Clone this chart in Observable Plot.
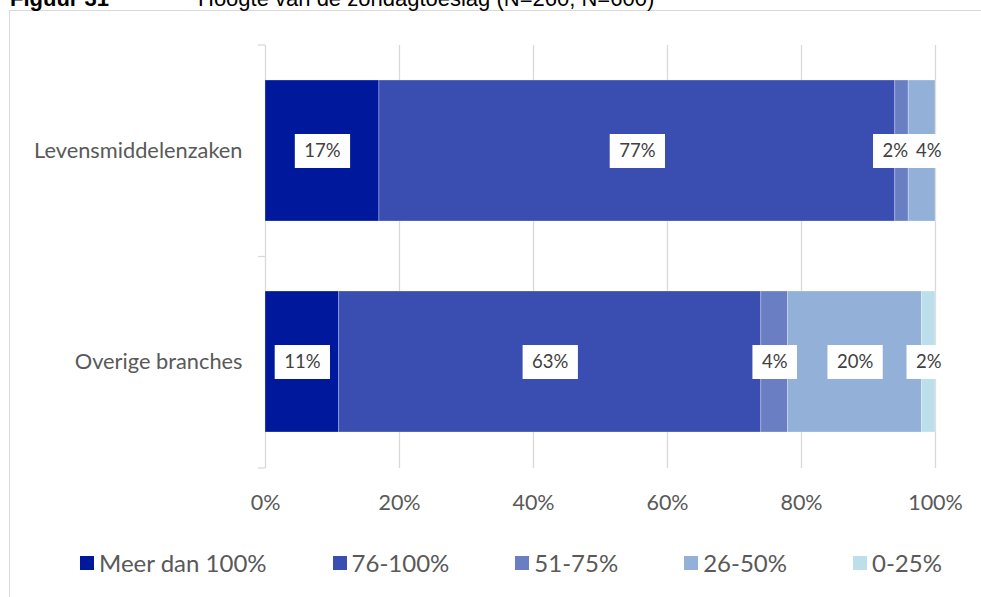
<!DOCTYPE html>
<html>
<head>
<meta charset="utf-8">
<script src="https://cdn.jsdelivr.net/npm/d3@7"></script>
<script src="https://cdn.jsdelivr.net/npm/@observablehq/plot@0.6"></script>
<style>
  html, body { margin: 0; padding: 0; background: #fff; }
  body { width: 981px; height: 597px; overflow: hidden; position: relative; font-family: Lato, sans-serif; }
  #frame { position: absolute; left: 9px; top: 10px; width: 990px; height: 620px; border: 1px solid #d9d9d9; box-sizing: border-box; }
  #title { position: absolute; top: -12px; left: 0; width: 981px; height: 30px; font-family: "Liberation Sans", Arial, sans-serif; font-size: 22px; line-height: 22px; white-space: nowrap; color: #000; }
  #title .fig { position: absolute; left: 10px; font-weight: bold; }
  #title .txt { position: absolute; left: 198px; }
  #chart { position: absolute; left: 0; top: 0; }
  #legend { position: absolute; top: 548px; left: 80px; width: max-content; display: flex; flex-wrap: nowrap; align-items: center; white-space: nowrap; font-family: Lato, sans-serif; font-size: 24px; color: #595959; }
  #legend .item { display: flex; flex-shrink: 0; align-items: center; margin-right: 66px; white-space: nowrap; }
  #legend .item:last-child { margin-right: 0; }
  #legend .sw { width: 14px; height: 14px; margin-right: 5px; flex-shrink: 0; }
</style>
</head>
<body>
<div id="frame"></div>
<div id="title"><span class="fig">Figuur 31</span><span class="txt">Hoogte van de zondagtoeslag (N=260; N=600)</span></div>
<div id="chart"></div>
<div id="legend"></div>
<script>
const categories = ["Levensmiddelenzaken", "Overige branches"];
const bands = ["Meer dan 100%", "76-100%", "51-75%", "26-50%", "0-25%"];
const levensmiddelenzaken = [17, 77, 2, 4, 0];
const overigeBranches = [11, 63, 4, 20, 2];
const bandColors = ["#00199c", "#3a4db1", "#6a7fc3", "#93b0d9", "#bddfec"];
const xTicks = [0, 20, 40, 60, 80, 100];

const FONT = "Lato";
const series = [levensmiddelenzaken, overigeBranches];
const data = [];
categories.forEach((cat, ci) => {
  bands.forEach((band, bi) => data.push({cat, band, value: series[ci][bi]}));
});

// label positions: segment midpoints, nudged apart when too close
const labels = [];
categories.forEach((cat, ci) => {
  let cum = 0;
  const row = [];
  series[ci].forEach((v, bi) => {
    if (v > 0) row.push({cat, mid: cum + v / 2, label: v + "%"});
    cum += v;
  });
  const minGap = 5;
  for (let i = 1; i < row.length; i++) {
    const gap = row[i].mid - row[i - 1].mid;
    if (gap < minGap) {
      const push = (minGap - gap) / 2;
      row[i - 1].mid -= push;
      row[i].mid += push;
    }
  }
  labels.push(...row);
});

function bandBoundaryTicks(index, scales, values, dims) {
  const x0 = scales.x(0);
  const top = dims.marginTop, bottom = dims.height - dims.marginBottom;
  const ys = [top, (top + bottom) / 2, bottom];
  const g = d3.create("svg:g");
  for (const y of ys) {
    g.append("line").attr("x1", x0 - 7).attr("x2", x0).attr("y1", y).attr("y2", y)
      .attr("stroke", "#d9d9d9").attr("stroke-width", 1.3);
  }
  return g.node();
}

const labelFontSize = 18.5;
const plot = Plot.plot({
  width: 981,
  height: 530,
  marginLeft: 265,
  marginRight: 46,
  marginTop: 45,
  marginBottom: 62,
  style: {fontFamily: FONT, color: "#595959", background: "transparent"},
  x: {domain: [0, 100]},
  y: {domain: categories, paddingInner: 0.33, paddingOuter: 0.165},
  color: {domain: bands, range: bandColors},
  marks: [
    Plot.ruleX(xTicks, {stroke: "#d9d9d9", strokeWidth: 1.3}),
    bandBoundaryTicks,
    Plot.barX(data, Plot.stackX({x: "value", y: "cat", fill: "band", stroke: "#ffffff", strokeOpacity: 0.35, strokeWidth: 0.8})),
    Plot.text(labels, {
      x: "mid", y: "cat", text: "label", fill: "#404040", fontSize: labelFontSize,
      render(index, scales, values, dims, context, next) {
        const g = next(index, scales, values, dims, context);
        const ctx = document.createElement("canvas").getContext("2d");
        ctx.font = `${labelFontSize}px ${FONT}`;
        const texts = Array.from(g.querySelectorAll("text"));
        const first = g.firstChild;
        texts.forEach((t) => {
          const m = /translate\(([-\d.e]+),\s*([-\d.e]+)\)/.exec(t.getAttribute("transform") || "");
          let x, y;
          if (m) { x = +m[1]; y = +m[2]; } else { x = +t.getAttribute("x"); y = +t.getAttribute("y"); }
          const w = ctx.measureText(t.textContent).width + 19;
          const h = 34;
          const r = document.createElementNS("http://www.w3.org/2000/svg", "rect");
          r.setAttribute("x", x - w / 2);
          r.setAttribute("y", y - h / 2);
          r.setAttribute("width", w);
          r.setAttribute("height", h);
          r.setAttribute("fill", "#ffffff");
          r.setAttribute("stroke", "none");
          g.insertBefore(r, first);
        });
        return g;
      }
    }),
    Plot.axisX({ticks: xTicks, tickFormat: d => d + "%", tickSize: 0, tickPadding: 26, fontSize: 21.5, label: null}),
    Plot.axisY({tickSize: 0, tickPadding: 23, fontSize: 21.8, label: null})
  ]
});
document.getElementById("chart").appendChild(plot);

const legend = d3.select("#legend");
bands.forEach((b, i) => {
  const item = legend.append("div").attr("class", "item");
  item.append("div").attr("class", "sw").style("background", bandColors[i]);
  item.append("span").text(b);
});
</script>
</body>
</html>
